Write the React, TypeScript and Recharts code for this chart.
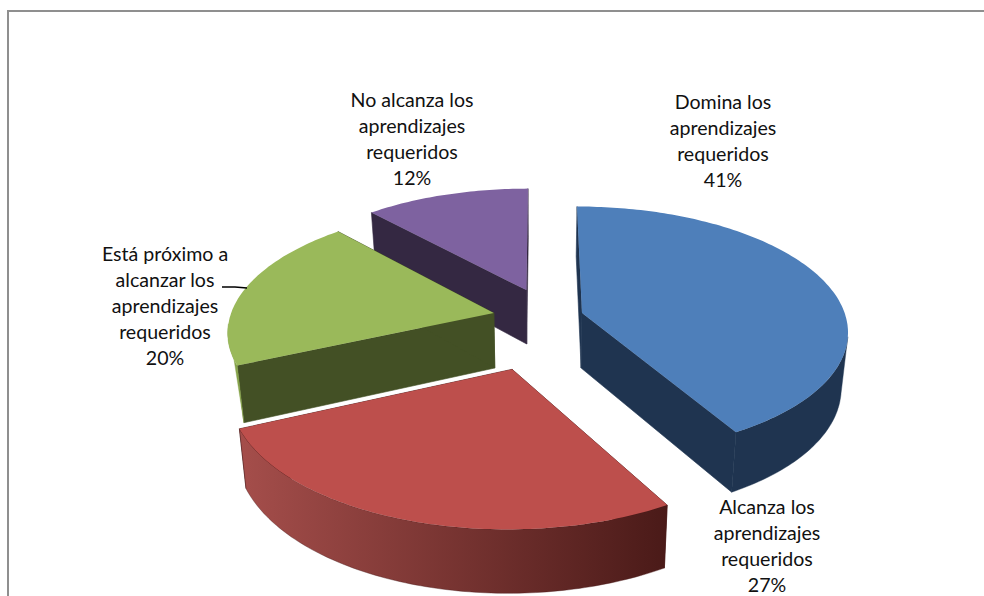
import React from 'react';
import { PieChart, Pie, Cell } from 'recharts';

// starts with the purple slice so that the green one paints over its cut face
const categories = [
  'No alcanza los aprendizajes requeridos',
  'Domina los aprendizajes requeridos',
  'Alcanza los aprendizajes requeridos',
  'Está próximo a alcanzar los aprendizajes requeridos',
];
const shares = [11.7, 41.7, 26.6, 20];
const percentLabels = ['12%', '41%', '27%', '20%'];
const labelLines = [
  ['No alcanza los', 'aprendizajes', 'requeridos'],
  ['Domina los', 'aprendizajes', 'requeridos'],
  ['Alcanza los', 'aprendizajes', 'requeridos'],
  ['Está próximo a', 'alcanzar los', 'aprendizajes', 'requeridos'],
];

const data = categories.map((name, i) => ({ name, value: shares[i] }));

// look of each slice: explosion in pie radii, top colour, cut face, outer wall left -> right
const sliceStyles = [
  { ex: -0.053, ey: -0.395, top: '#7e62a0', cut: '#342842', wallA: '#342842', wallB: '#342842', flat: false },
  { ex: 0.16, ey: -0.2, top: '#4e7fba', cut: '#1f3450', wallA: '#1f3450', wallB: '#1f3450', flat: false },
  { ex: -0.1, ey: 0.2366, top: '#bd4f4c', cut: '#4a1a18', wallA: '#a54e4b', wallB: '#4a1a18', flat: false },
  { ex: -0.176, ey: -0.2, top: '#9ab95a', cut: '#435025', wallA: '#86a34a', wallB: '#86a34a', flat: true },
];

// label anchors, in pixels of the chart
const labelBoxes = [
  { x: 412, y: 107 },
  { x: 723, y: 109 },
  { x: 767, y: 514 },
  { x: 165, y: 261 },
];

const TILT = 0.474;
const PERSPECTIVE = 0.14;
const DEPTH = 56;
const DEPTH_PERSPECTIVE = 0.1;
const BASE_SHRINK = 0.978;
const WALL_FROM = 101;
const WALL_TO = 265;

const path = (pts: number[][]) =>
  pts.map((p, i) => `${i ? 'L' : 'M'}${p[0].toFixed(1)},${p[1].toFixed(1)}`).join(' ') + ' Z';

const Slice3D = (props: any) => {
  const { cx, cy, outerRadius, startAngle, endAngle, index } = props;
  const st = sliceStyles[index];
  const a0 = 90 - startAngle;
  const a1 = 90 - endAngle;

  const top = (theta: number, r: number) => {
    const rad = (theta * Math.PI) / 180;
    const X = st.ex + r * Math.sin(rad);
    const Y = st.ey - r * Math.cos(rad);
    const w = 1 - PERSPECTIVE * Y;
    return { x: cx + (outerRadius * X) / w, y: cy + (outerRadius * TILT * Y) / w, Y };
  };
  const pt = (theta: number, r: number) => {
    const p = top(theta, r);
    return [p.x, p.y];
  };
  const base = (theta: number, r: number) => {
    const p = top(theta, r);
    return [cx + (p.x - cx) * BASE_SHRINK, p.y + DEPTH / (1 - DEPTH_PERSPECTIVE * p.Y)];
  };
  const arc = (from: number, to: number, f: (t: number, r: number) => number[]) => {
    const out: number[][] = [];
    const steps = Math.max(2, Math.ceil(Math.abs(to - from)));
    for (let i = 0; i <= steps; i++) out.push(f(from + ((to - from) * i) / steps, 1));
    return out;
  };

  const topFace = [pt(a0, 0), ...arc(a0, a1, pt)];
  const cutStart = [pt(a0, 0), pt(a0, 1), base(a0, 1), base(a0, 0)];
  const cutEnd = [pt(a1, 0), pt(a1, 1), base(a1, 1), base(a1, 0)];
  const w0 = Math.max(a0, WALL_FROM);
  const w1 = Math.min(a1, WALL_TO);
  const gradId = `wall-${index}`;
  const wall = st.flat ? [...arc(w0, w1, pt), base(w0, 1)] : [...arc(w0, w1, pt), ...arc(w1, w0, base)];

  return (
    <g>
      <defs>
        <linearGradient id={gradId} x1="0" y1="0" x2="1" y2="0">
          <stop offset="0%" stopColor={st.wallA} />
          <stop offset="100%" stopColor={st.wallB} />
        </linearGradient>
      </defs>
      <path d={path(cutStart)} fill={st.cut} stroke={st.cut} strokeWidth={0.6} />
      <path d={path(cutEnd)} fill={st.cut} stroke={st.cut} strokeWidth={0.6} />
      {w1 > w0 && <path d={path(wall)} fill={`url(#${gradId})`} stroke={st.wallB} strokeWidth={0.4} />}
      <path d={path(topFace)} fill={st.top} />
    </g>
  );
};

const SliceLabel = (props: any) => {
  const { index } = props;
  const box = labelBoxes[index];
  const lines = [...labelLines[index], percentLabels[index]];
  return (
    <g>
      {index === 3 && <polyline points="222,287 235,287 247,288" fill="none" stroke="#000" strokeWidth={1.6} />}
      <text x={box.x} y={box.y} textAnchor="middle" fill="#111" fontFamily="Lato" fontSize={19.6}>
        {lines.map((line, i) => (
          <tspan key={i} x={box.x} y={box.y + i * 26.1}>
            {line}
          </tspan>
        ))}
      </text>
    </g>
  );
};

export default function App() {
  return (
    <div style={{ position: 'absolute', left: 0, top: 0, width: 984, height: 596, overflow: 'hidden', background: '#fff' }}>
      <div style={{ position: 'absolute', left: 7, top: 10, width: 990, height: 600, borderTop: '2px solid #8f8f8f', borderLeft: '2px solid #8f8f8f', boxSizing: 'border-box' }} />
      <div style={{ position: 'absolute', left: 0, top: 0 }}>
        <PieChart width={984} height={596} margin={{ top: 0, right: 0, bottom: 0, left: 0 }}>
          <Pie
            data={data}
            dataKey="value"
            nameKey="name"
            cx={540}
            cy={338}
            outerRadius={270}
            startAngle={90 + shares[0] * 3.6}
            endAngle={90 + shares[0] * 3.6 - 360}
            stroke="none"
            isAnimationActive={false}
            shape={Slice3D}
            label={SliceLabel}
            labelLine={false}
          >
            {data.map((d) => (
              <Cell key={d.name} />
            ))}
          </Pie>
        </PieChart>
      </div>
    </div>
  );
}
